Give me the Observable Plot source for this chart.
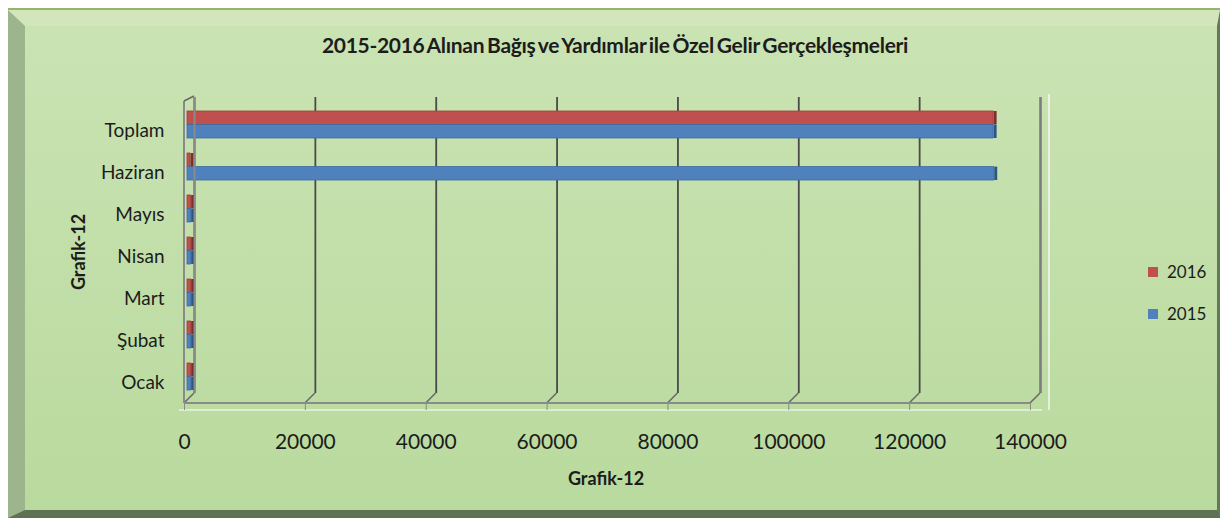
<!DOCTYPE html>
<html>
<head>
<meta charset="utf-8">
<script src="https://cdn.jsdelivr.net/npm/d3@7"></script>
<script src="https://cdn.jsdelivr.net/npm/@observablehq/plot@0.6"></script>
<style>
  body { margin: 0; background: #ffffff; font-family: Lato, "Open Sans", sans-serif; }
  #wrap { position: relative; width: 1220px; height: 518px; overflow: hidden; }
  #topline { position: absolute; left: 8px; top: 8px; width: 1212px; height: 2px; background: #93b56f; }
  #frame { position: absolute; left: 8px; top: 10px; width: 1212px; height: 508px; box-sizing: border-box;
    border-style: solid; border-width: 16px 3px 8px 17px;
    border-color: #d3e6bb #66785a #5f7152 #9db58c;
    background: linear-gradient(#cae3b3, #b9da9e); }
  #title { position: absolute; left: 0; width: 1230px; top: 32px; text-align: center; font-weight: 700; font-size: 21px;
    letter-spacing: -0.3px; word-spacing: -2px; color: #1c1c1c; }
  #plot { position: absolute; left: 0; top: 0; }
  .ytitle { position: absolute; left: 78px; top: 252px; transform: translate(-50%, -50%) rotate(-90deg); font-weight: 700; font-size: 18px; color: #1c1c1c; white-space: nowrap; }
  .xtitle { position: absolute; left: 606px; top: 478px; transform: translate(-50%, -50%); font-weight: 700; font-size: 18px; color: #1c1c1c; white-space: nowrap; }
  .leg { position: absolute; left: 1148px; font-size: 17px; color: #1c1c1c; line-height: 20px; }
  .leg span { display: inline-block; width: 10px; height: 10px; margin-right: 9px; vertical-align: 1px; }
</style>
</head>
<body>
<div id="wrap">
  <div id="topline"></div>
  <div id="frame"></div>
  <div id="title">2015-2016 Alınan Bağış ve Yardımlar ile Özel Gelir Gerçekleşmeleri</div>
  <div id="plot"></div>
  <div class="ytitle">Grafik-12</div>
  <div class="xtitle">Grafik-12</div>
  <div class="leg" style="top:262px"><span style="background:#c0504d"></span>2016</div>
  <div class="leg" style="top:304px"><span style="background:#4f81bd"></span>2015</div>
</div>
<script>
// ---- data ----
const categories = ["Ocak", "Şubat", "Mart", "Nisan", "Mayıs", "Haziran", "Toplam"];
const seriesNames = ["2016", "2015"];
const values2016 = [600, 600, 600, 600, 600, 500, 133400];
const values2015 = [600, 600, 600, 600, 600, 133500, 133400];
const xTicks = [0, 20000, 40000, 60000, 80000, 100000, 120000, 140000];

const data = categories.flatMap((c, i) => [
  {cat: c, series: seriesNames[0], value: values2016[i]},
  {cat: c, series: seriesNames[1], value: values2015[i]}
]);

// ---- layout ----
const W = 1220, H = 518;
const mL = 184, mR = 190, mT = 110, mB = 115;
const padIn = 0.36, padOut = 0.127;
const step = (H - mT - mB) / (categories.length - padIn + 2 * padOut);
const bw = step * (1 - padIn);
const depth = 10;
const barDx = 3, barDy = -6;

const colors = {"2016": "#c0504d", "2015": "#4f81bd"};
const dark = {"2016": "#7e2f2d", "2015": "#2b5686"};
const edge = {"2016": "#9e3f3c", "2015": "#3c6ba3"};

function wallMark(index, scales, values, dims) {
  const g = d3.create("svg:g");
  const x = scales.x;
  const bottom = dims.height - dims.marginBottom;
  const top = dims.marginTop;
  for (const t of xTicks) {
    g.append("line").attr("x1", x(t) + depth).attr("y1", bottom - depth)
      .attr("x2", x(t)).attr("y2", bottom)
      .attr("stroke", "#6a6a6a").attr("stroke-width", 1.6);
  }
  g.append("line").attr("x1", x(0)).attr("x2", x(140000)).attr("y1", bottom).attr("y2", bottom)
    .attr("stroke", "#8a8a8a").attr("stroke-width", 2);
  g.append("line").attr("x1", x(0) - 5).attr("x2", x(140000) + 12).attr("y1", bottom + 7).attr("y2", bottom + 7)
    .attr("stroke", "#ffffff").attr("stroke-width", 1.2);
  g.append("line").attr("x1", x(140000) + 19).attr("x2", x(140000) + 19).attr("y1", top - 16).attr("y2", bottom + 7)
    .attr("stroke", "#ffffff").attr("stroke-width", 1.2);
  g.append("line").attr("x1", x(0)).attr("x2", x(0)).attr("y1", top - 9).attr("y2", bottom)
    .attr("stroke", "#8a8a8a").attr("stroke-width", 2);
  g.append("line").attr("x1", x(0)).attr("x2", x(0) + depth).attr("y1", top - 9).attr("y2", top - 14)
    .attr("stroke", "#6a6a6a").attr("stroke-width", 1.6);
  return g.node();
}

const chart = Plot.plot({
  width: W, height: H,
  marginLeft: mL, marginRight: mR, marginTop: mT, marginBottom: mB,
  style: {background: "transparent", fontFamily: "Lato, 'Open Sans', sans-serif", color: "#1c1c1c", overflow: "visible"},
  x: {domain: [0, 140000]},
  y: {domain: categories.slice().reverse(), paddingInner: padIn, paddingOuter: padOut, label: null},
  marks: [
    Plot.ruleX(xTicks.slice(0, -1), {x: d => d, dx: depth, insetTop: -13, insetBottom: depth, stroke: "#4a4a4a", strokeWidth: 1.8}),
    Plot.ruleX(xTicks.slice(-1), {x: d => d, dx: depth, insetTop: -13, insetBottom: depth, stroke: "#7d7d7d", strokeWidth: 2.6}),
    wallMark,
    Plot.barX(data.filter(d => d.series === "2016"), {x: "value", y: "cat", fill: colors["2016"], stroke: edge["2016"], strokeWidth: 0.8, insetBottom: bw / 2, dx: barDx, dy: barDy}),
    Plot.barX(data.filter(d => d.series === "2015"), {x: "value", y: "cat", fill: colors["2015"], stroke: edge["2015"], strokeWidth: 0.8, insetTop: bw / 2, dx: barDx, dy: barDy}),
    Plot.tickX(data.filter(d => d.series === "2016"), {x: "value", y: "cat", stroke: dark["2016"], strokeWidth: 3, insetBottom: bw / 2, dx: barDx + 1.5, dy: barDy}),
    Plot.tickX(data.filter(d => d.series === "2015"), {x: "value", y: "cat", stroke: dark["2015"], strokeWidth: 3, insetTop: bw / 2, dx: barDx + 1.5, dy: barDy}),
    Plot.ruleX([0], {x: d => d, dx: depth, insetTop: -13, insetBottom: depth, stroke: "#8a8a8a", strokeWidth: 2}),
    Plot.axisX({ticks: xTicks, tickFormat: d => String(d), tickSize: 7, tickPadding: 24, fontSize: 21, stroke: "#8a8a8a", label: null}),
    Plot.axisY({tickSize: 0, tickPadding: 20, fontSize: 19, label: null})
  ]
});
document.getElementById("plot").appendChild(chart);
</script>
</body>
</html>
